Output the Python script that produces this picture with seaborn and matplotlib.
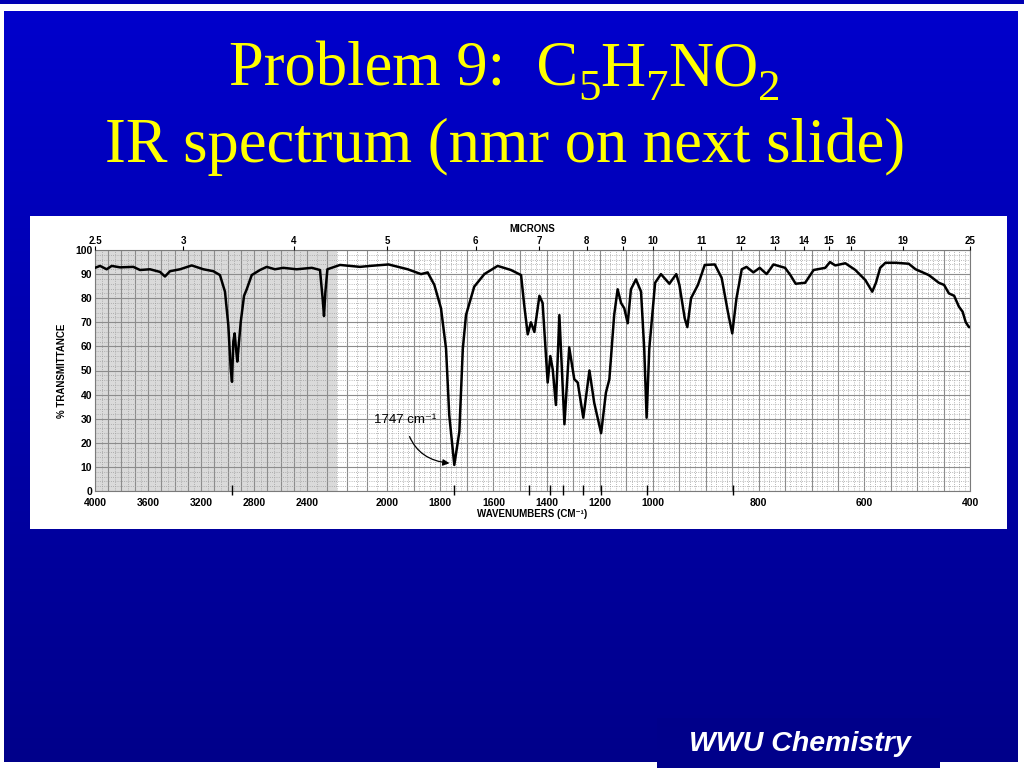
import numpy as np
import pandas as pd
import matplotlib
matplotlib.use("Agg")
import matplotlib.pyplot as plt
import seaborn as sns
from matplotlib.patches import Rectangle

# IR trace: wavenumber (cm-1) and % transmittance
wavenumber = [4000, 3962, 3912, 3874, 3811, 3711, 3660, 3585, 3509, 3472, 3434, 3358, 3270, 3182,
              3107, 3057, 3019, 2994, 2976, 2966, 2956, 2946, 2936, 2926, 2913, 2900, 2875, 2855,
              2817, 2755, 2704, 2642, 2579, 2478, 2376, 2335, 2322, 2315, 2308, 2298, 2235, 2135,
              2085, 1994, 1922, 1872, 1847, 1822, 1797, 1778, 1766, 1747, 1728, 1715, 1703, 1672,
              1634, 1584, 1534, 1496, 1484, 1471, 1459, 1446, 1427, 1415, 1396, 1386, 1377, 1365,
              1352, 1333, 1315, 1296, 1283, 1262, 1239, 1221, 1195, 1177, 1164, 1146, 1133, 1120,
              1108, 1095, 1083, 1064, 1045, 1033, 1024, 1014, 996, 985, 969, 956, 950, 940,
              935, 928, 915, 902, 883, 870, 858, 850, 842, 832, 823, 810, 798, 785,
              772, 750, 740, 730, 712, 696, 674, 665, 655, 636, 617, 598, 585, 578,
              570, 560, 541, 516, 503, 478, 459, 449, 440, 430, 421, 414, 408, 402, 400]
transmittance = [92.6, 93.4, 92.0, 93.4, 92.8, 93.0, 91.7, 92.0, 90.9, 89.0, 91.2, 92.0, 93.6, 92.0,
                 91.2, 89.6, 82.7, 68.9, 50.9, 45.3, 62.0, 65.4, 59.2, 53.7, 62.0, 70.2, 81.0, 83.7,
                 89.6, 91.7, 93.0, 92.0, 92.6, 92.0, 92.6, 91.7, 80.0, 72.6, 82.7, 92.0, 93.8, 93.0,
                 93.4, 94.0, 92.0, 90.0, 90.7, 85.5, 75.8, 59.0, 31.5, 10.8, 24.6, 59.0, 73.0, 84.8,
                 90.0, 93.4, 91.7, 89.6, 77.0, 65.0, 70.0, 66.0, 81.0, 78.0, 45.0, 56.0, 50.5, 35.7,
                 73.0, 27.7, 59.6, 46.4, 45.0, 30.4, 50.0, 36.6, 24.0, 40.8, 46.4, 73.0, 83.7, 78.0,
                 75.8, 69.6, 83.7, 87.8, 82.7, 59.0, 30.4, 59.0, 86.4, 90.0, 86.0, 90.0, 85.5, 71.7,
                 68.0, 80.0, 85.5, 93.8, 94.0, 88.4, 74.0, 65.4, 80.0, 92.0, 93.0, 90.7, 92.6, 90.0,
                 94.0, 92.6, 89.6, 86.0, 86.4, 91.7, 92.6, 95.0, 93.6, 94.5, 91.7, 87.5, 82.7, 86.4,
                 92.6, 94.7, 94.7, 94.3, 92.0, 89.6, 86.4, 85.5, 82.0, 81.0, 76.5, 74.4, 70.0, 68.0, 68.0]

bottom_labels = [4000, 3600, 3200, 2800, 2400, 2000, 1800, 1600, 1400, 1200, 1000, 800, 600, 400]
micron_labels = [2.5, 3, 4, 5, 6, 7, 8, 9, 10, 11, 12, 13, 14, 15, 16, 19, 25]
y_labels = list(range(0, 101, 10))
peak_marks = [2966, 1747, 1466, 1389, 1337, 1262, 1195, 1024, 848]

# formula in the title: (text, is_subscript)
title_parts = [("Problem 9:  C", False), ("5", True), ("H", False), ("7", True),
               ("NO", False), ("2", True)]

df = pd.DataFrame({"wn": wavenumber, "T": transmittance})

# the chart paper changes scale at 2400, 2000 and 1000 cm-1
wn_knots = np.array([4000, 2400, 2000, 1000, 400])
px_knots = np.array([95, 307, 387, 653, 970])

def fwd(w):
    return -np.interp(w, wn_knots[::-1], px_knots[::-1])

def inv(p):
    return np.interp(-np.asarray(p), px_knots, wn_knots)

fig = plt.figure(figsize=(10.24, 7.68), dpi=100, facecolor="white")
renderer = fig.canvas.get_renderer()

# slide background
bg = fig.add_axes([0, 0, 1, 1])
bg.set_xlim(0, 1024)
bg.set_ylim(768, 0)
bg.axis("off")
grad = np.linspace(0, 1, 256).reshape(-1, 1)
cmap = matplotlib.colors.LinearSegmentedColormap.from_list("slide", ["#0000cc", "#00008a"])
bg.imshow(grad, cmap=cmap, extent=[4, 1018, 762, 11], aspect="auto")
bg.add_patch(Rectangle((0, 0), 1024, 4, color="#0000b4", lw=0))
bg.add_patch(Rectangle((30, 216), 977, 313, color="white", lw=0))
bg.add_patch(Rectangle((657, 718), 283, 50, color="#00008a", lw=0))

# first title line, laid out piece by piece so the subscripts drop like the slide
title_size = 45
texts = []
for s, sub in title_parts:
    t = bg.text(0, 100 if sub else 86, s, color="#ffff00",
                fontsize=title_size * 0.72 if sub else title_size,
                family="Liberation Serif", ha="left", va="baseline")
    texts.append(t)
widths = [t.get_window_extent(renderer).width for t in texts]
x = 505 - sum(widths) / 2
for t, w in zip(texts, widths):
    t.set_x(x)
    x += w

bg.text(505, 162, "IR spectrum (nmr on next slide)", color="#ffff00", fontsize=title_size,
        family="Liberation Serif", ha="center", va="baseline")
bg.text(800, 744, "WWU Chemistry", color="white", fontsize=20.5, family="Liberation Sans",
        weight="bold", style="italic", ha="center", va="center")

# spectrum
ax = fig.add_axes([95 / 1024, 1 - 491 / 768, 875 / 1024, 241 / 768])
ax.set_xscale("function", functions=(fwd, inv))
ax.set_xlim(4000, 400)
ax.set_ylim(0, 100)
ax.set_facecolor("white")
ax.axvspan(4000, 2250, color="#dadada", lw=0, zorder=0)

major_x = list(range(4000, 999, -100)) + list(range(950, 399, -50))
minor_x = (list(range(3950, 2000, -50)) + list(range(1980, 1000, -20))
           + list(range(990, 400, -10)))
ax.set_xticks(major_x, labels=[str(v) if v in bottom_labels else "" for v in major_x])
ax.set_xticks(minor_x, minor=True)
ax.set_yticks(y_labels, labels=[str(v) for v in y_labels])
ax.set_yticks(np.arange(0, 100, 2), minor=True)
ax.grid(which="major", color="#8c8c8c", lw=0.8, zorder=1)
ax.grid(which="minor", color="#a0a0a0", lw=0.6, ls=":", zorder=1)
ax.set_axisbelow(True)
ax.tick_params(which="both", length=0, labelsize=7.5)
ax.tick_params(axis="x", pad=5)
ax.tick_params(axis="y", pad=2)
for lab in ax.get_xticklabels() + ax.get_yticklabels():
    lab.set_fontweight("bold")
    lab.set_family("Liberation Sans")
for sp in ax.spines.values():
    sp.set_color("#7a7a7a")
    sp.set_linewidth(0.8)

sns.lineplot(data=df, x="wn", y="T", ax=ax, color="black", lw=1.8, estimator=None, zorder=3)
ax.vlines(peak_marks, -1.5, 2.5, color="black", lw=1.0, clip_on=False, zorder=4)

ax.set_xlabel("WAVENUMBERS (CM⁻¹)", fontsize=7, weight="bold",
              family=["Liberation Sans", "DejaVu Sans"], labelpad=1)
ax.set_ylabel("% TRANSMITTANCE", fontsize=7, weight="bold", family="Liberation Sans", labelpad=6)

ax.annotate("1747 cm⁻¹", xy=(1760, 11.5), xytext=(1932, 29.5), fontsize=9.5,
            family=["Liberation Sans", "DejaVu Sans"], ha="center", va="center",
            arrowprops=dict(arrowstyle="-|>", color="black", lw=0.9,
                            connectionstyle="arc3,rad=0.4", shrinkA=6, shrinkB=1))

# micron scale on top
ax2 = ax.twiny()
ax2.set_xscale("function", functions=(fwd, inv))
ax2.set_xlim(4000, 400)
ax2.set_xticks([10000 / m for m in micron_labels], labels=[f"{m:g}" for m in micron_labels])
ax2.tick_params(length=3, width=0.8, labelsize=7, pad=0)
for lab in ax2.get_xticklabels():
    lab.set_fontweight("bold")
    lab.set_family("Liberation Sans")
ax2.set_xlabel("MICRONS", fontsize=7, weight="bold", family="Liberation Sans", labelpad=3)
for sp in ax2.spines.values():
    sp.set_visible(False)

fig.savefig("out.png", dpi=100, facecolor="white")
